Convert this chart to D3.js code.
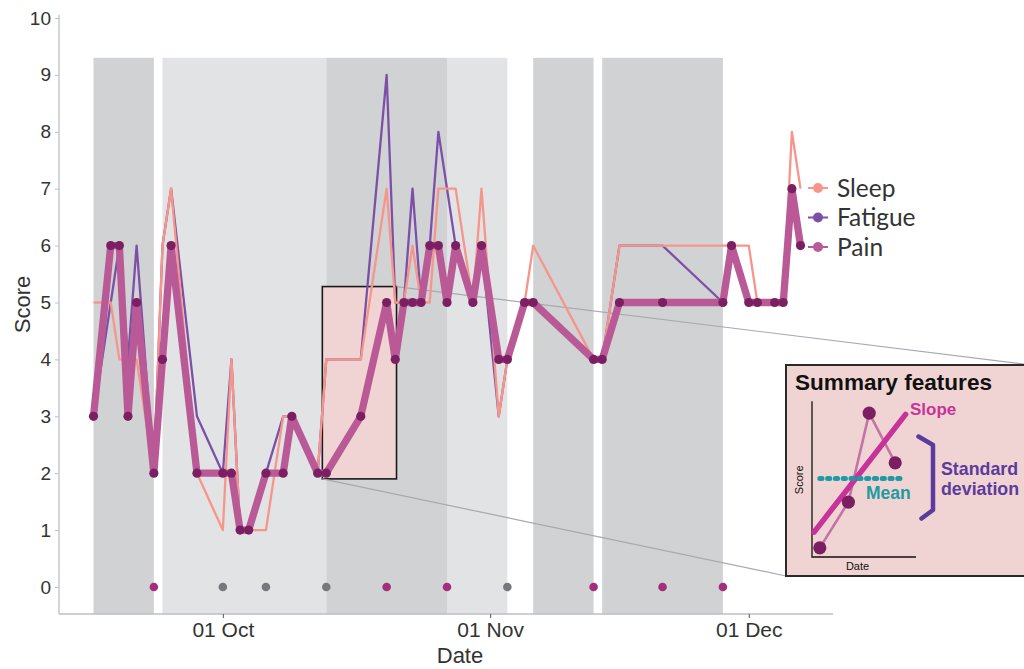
<!DOCTYPE html>
<html><head><meta charset="utf-8">
<script src="https://cdn.jsdelivr.net/npm/d3@7"></script>
<style>body{margin:0;background:#fff}svg{display:block}</style>
</head><body>
<svg id="chart" width="1024" height="669"></svg>
<script>
// ---------------- data ----------------
const dates = ["2023-09-16","2023-09-18","2023-09-19","2023-09-20","2023-09-21","2023-09-23","2023-09-24","2023-09-25","2023-09-28",
  "2023-10-01","2023-10-02","2023-10-03","2023-10-04","2023-10-06","2023-10-08","2023-10-09","2023-10-12","2023-10-13","2023-10-17",
  "2023-10-20","2023-10-21","2023-10-22","2023-10-23","2023-10-24","2023-10-25","2023-10-26","2023-10-27","2023-10-28","2023-10-30","2023-10-31",
  "2023-11-02","2023-11-03","2023-11-05","2023-11-06","2023-11-13","2023-11-14","2023-11-16","2023-11-21","2023-11-28","2023-11-29",
  "2023-12-01","2023-12-02","2023-12-04","2023-12-05","2023-12-06","2023-12-07"];
const sleep   = [5,5,4,4,4,2,6,7,2, 1,4,1,1,1,3,3,2,4,4, 7,5,5,6,5,5,7,7,7,5,7, 3,4,5,6,4,4,6,6,6,6, 6,5,5,5,8,7];
const fatigue = [3,5,6,4,6,2,6,7,3, 2,4,1,1,2,3,3,2,4,4, 9,5,5,7,5,6,8,7,6,5,6, 3,4,5,5,4,4,6,6,5,6, 5,5,5,5,7,6];
const pain    = [3,6,6,3,5,2,4,6,2, 2,2,1,1,2,2,3,2,2,3, 5,4,5,5,5,6,6,5,6,5,6, 4,4,5,5,4,4,5,5,5,6, 5,5,5,5,7,6];

const seriesNames = ["Sleep","Fatigue","Pain"];

const bandStart = ["2023-09-16","2023-09-24","2023-10-13","2023-10-27","2023-11-06","2023-11-14"];
const bandEnd   = ["2023-09-23","2023-10-13","2023-10-27","2023-11-03","2023-11-13","2023-11-28"];
const bandShade = ["dark","light","dark","light","dark","dark"];
const bandTop = 9.3, bandBottom = -0.48;

const eventDates = ["2023-09-23","2023-10-01","2023-10-06","2023-10-13","2023-10-20","2023-10-27","2023-11-03","2023-11-13","2023-11-21","2023-11-28"];
const eventKind  = ["flare","other","other","other","flare","flare","other","flare","flare","flare"];
const eventLevel = 0;

const summaryStart = "2023-10-12T13:00", summaryEnd = "2023-10-21T03:30";
const summaryLow = 1.9, summaryHigh = 5.28;

const yTicks = [0,1,2,3,4,5,6,7,8,9,10];
const xTickDates = ["2023-10-01","2023-11-01","2023-12-01"];

// inset illustration values
const insetX = [0.3,1.4,2.2,3.2];
const insetY = [0.35,2.1,5.5,3.6];
const insetMean = 3.0;
const insetSlopeX = [0.08,3.6], insetSlopeY = [0.95,5.45];

// ---------------- drawing ----------------
const parse = s => new Date(s + (s.length === 10 ? "T00:00:00Z" : ":00Z"));
const svg = d3.select("#chart");
const panel = {left:59, right:833, top:15, bottom:614};

const x = d3.scaleUtc().domain([parse(dates[0]), parse(dates[dates.length-1])]).range([93.5, 800.5]);
const y = d3.scaleLinear().domain([0,10]).range([587, 18]);

const colors = {Sleep:"#F6968B", Fatigue:"#7C50A7", Pain:"#B95A97"};
const painDot = "#7B1F62";

// bands
svg.append("g").selectAll("rect").data(bandStart.map((s,i)=>({s:parse(s),e:parse(bandEnd[i]),k:bandShade[i]})))
  .join("rect")
  .attr("x", d=>x(d.s)).attr("width", d=>x(d.e)-x(d.s))
  .attr("y", y(bandTop)).attr("height", y(bandBottom)-y(bandTop))
  .attr("fill", d=> d.k==="dark" ? "#D1D2D4" : "#E2E3E5");

// summary rectangle
svg.append("rect")
  .attr("x", x(parse(summaryStart))).attr("width", x(parse(summaryEnd))-x(parse(summaryStart)))
  .attr("y", y(summaryHigh)).attr("height", y(summaryLow)-y(summaryHigh))
  .attr("fill","#F0D4D3").attr("stroke","#1a1a1a").attr("stroke-width",1.6);

// inset box geometry
const inset = {left:786, top:365, right:1031, bottom:576};

// connector lines
const conn = svg.append("g").attr("stroke","#A7A9B0").attr("stroke-width",1.2).attr("fill","none");
conn.append("line").attr("x1", x(parse(summaryEnd))).attr("y1", y(summaryHigh)).attr("x2", inset.right).attr("y2", inset.top);
conn.append("line").attr("x1", x(parse(summaryStart))).attr("y1", y(summaryLow)).attr("x2", inset.left).attr("y2", inset.bottom);

// axes
const axisColor = "#BEBFC6";
svg.append("line").attr("x1",panel.left).attr("x2",panel.left).attr("y1",panel.top).attr("y2",panel.bottom).attr("stroke",axisColor).attr("stroke-width",1.3);
svg.append("line").attr("x1",panel.left).attr("x2",panel.right).attr("y1",panel.bottom).attr("y2",panel.bottom).attr("stroke",axisColor).attr("stroke-width",1.3);

const yAxis = svg.append("g").attr("transform",`translate(${panel.left},0)`)
  .call(d3.axisLeft(y).tickValues(yTicks).tickSize(4).tickPadding(4));
yAxis.select(".domain").remove();
yAxis.selectAll("line").attr("stroke",axisColor);
yAxis.selectAll("text").attr("font-family","'Liberation Sans', Arial, sans-serif").attr("font-size",19).attr("fill","#333");

const xAxis = svg.append("g").attr("transform",`translate(0,${panel.bottom})`)
  .call(d3.axisBottom(x).tickValues(xTickDates.map(parse)).tickFormat(d3.utcFormat("%d %b")).tickSize(4).tickPadding(4));
xAxis.select(".domain").remove();
xAxis.selectAll("line").attr("stroke","#555");
xAxis.selectAll("text").attr("font-family","'Liberation Sans', Arial, sans-serif").attr("font-size",21).attr("fill","#333");

svg.append("text").attr("transform",`translate(30,${(panel.top+panel.bottom)/2 - 10}) rotate(-90)`)
  .attr("text-anchor","middle").attr("font-family","'Liberation Sans', Arial, sans-serif").attr("font-size",22).attr("fill","#333").text("Score");
svg.append("text").attr("x",(panel.left+panel.right)/2 + 14).attr("y",663)
  .attr("text-anchor","middle").attr("font-family","'Liberation Sans', Arial, sans-serif").attr("font-size",22).attr("fill","#333").text("Date");

// event dots
svg.append("g").selectAll("circle").data(eventDates.map((d,i)=>({d:parse(d),k:eventKind[i]})))
  .join("circle").attr("cx",d=>x(d.d)).attr("cy",y(eventLevel)).attr("r",4.3)
  .attr("fill",d=>d.k==="flare" ? "#A42E7B" : "#77787D");

// series lines
const rows = dates.map((d,i)=>({date:parse(d), Sleep:sleep[i], Fatigue:fatigue[i], Pain:pain[i]}));
const lineFor = key => d3.line().x(d=>x(d.date)).y(d=>y(d[key]));
svg.append("path").datum(rows).attr("d",lineFor("Fatigue")).attr("fill","none").attr("stroke",colors.Fatigue).attr("stroke-width",2.3).attr("stroke-linejoin","round");
svg.append("path").datum(rows).attr("d",lineFor("Sleep")).attr("fill","none").attr("stroke",colors.Sleep).attr("stroke-width",2.3).attr("stroke-linejoin","round");
svg.append("path").datum(rows).attr("d",lineFor("Pain")).attr("fill","none").attr("stroke",colors.Pain).attr("stroke-width",7.3).attr("stroke-linejoin","round");
svg.append("g").selectAll("circle").data(rows).join("circle")
  .attr("cx",d=>x(d.date)).attr("cy",d=>y(d.Pain)).attr("r",4.6).attr("fill",painDot);

// legend
const legend = svg.append("g").attr("transform","translate(808,188)");
seriesNames.forEach((name,i)=>{
  const g = legend.append("g").attr("transform",`translate(0,${i*29.5})`);
  g.append("line").attr("x1",0).attr("x2",20).attr("stroke",colors[name]).attr("stroke-width",2);
  g.append("circle").attr("cx",10).attr("r",5).attr("fill",colors[name]);
  g.append("text").attr("x",29).attr("y",8.5).attr("font-family","Lato, 'Open Sans', sans-serif").attr("font-size",24.5).attr("fill","#333").text(name);
});

// inset
const ins = svg.append("g");
ins.append("rect").attr("x",inset.left).attr("y",inset.top).attr("width",inset.right-inset.left).attr("height",inset.bottom-inset.top)
  .attr("fill","#F0D4D3").attr("stroke","#2a2a2a").attr("stroke-width",2);
ins.append("text").attr("x",795).attr("y",390).attr("font-family","'Liberation Sans', Arial, sans-serif").attr("font-weight","bold")
  .attr("font-size",21.5).attr("textLength",197).attr("lengthAdjust","spacingAndGlyphs").attr("fill","#111").text("Summary features");

const sx = d3.scaleLinear().domain([0,4]).range([812,916]);
const sy = d3.scaleLinear().domain([0,6]).range([557,400]);
ins.append("path").attr("d",`M${sx(0)},${sy(5.95)}V${sy(0)}H${sx(4)}`).attr("fill","none").attr("stroke","#111").attr("stroke-width",1.3);
ins.append("text").attr("transform",`translate(${sx(0)-9},${sy(2.95)}) rotate(-90)`).attr("text-anchor","middle")
  .attr("font-family","'Liberation Sans', Arial, sans-serif").attr("font-size",11).attr("fill","#111").text("Score");
ins.append("text").attr("x",sx(1.75)).attr("y",sy(0)+13).attr("text-anchor","middle")
  .attr("font-family","'Liberation Sans', Arial, sans-serif").attr("font-size",11).attr("fill","#111").text("Date");

const ipts = insetX.map((v,i)=>[sx(v), sy(insetY[i])]);
ins.append("path").attr("d",d3.line()(ipts)).attr("fill","none").attr("stroke","#C274A6").attr("stroke-width",2.6);
ins.append("path").attr("d",d3.line()(insetSlopeX.map((v,i)=>[sx(v),sy(insetSlopeY[i])])))
  .attr("stroke","#C8339A").attr("stroke-width",5.5).attr("stroke-linecap","round");
ins.append("line").attr("x1",sx(0.3)).attr("x2",sx(3.55)).attr("y1",sy(insetMean)).attr("y2",sy(insetMean))
  .attr("stroke","#1F9AA2").attr("stroke-width",5).attr("stroke-linecap","round").attr("stroke-dasharray","2.2 5.6");
ins.selectAll("circle.ip").data(ipts).join("circle").attr("class","ip").attr("cx",d=>d[0]).attr("cy",d=>d[1]).attr("r",6.6).attr("fill","#7B1F62");

ins.append("text").attr("x",910).attr("y",415).attr("font-family","'Liberation Sans', Arial, sans-serif").attr("font-weight","bold")
  .attr("font-size",17).attr("fill","#C8339A").text("Slope");
ins.append("text").attr("x",866).attr("y",499).attr("font-family","'Liberation Sans', Arial, sans-serif").attr("font-weight","bold")
  .attr("font-size",17.5).attr("fill","#1F9AA2").text("Mean");
ins.append("path").attr("d",`M918.5,436.5 L933,445 V510 L921.5,518.5`).attr("fill","none").attr("stroke","#5C3B9C")
  .attr("stroke-width",4.5).attr("stroke-linecap","round").attr("stroke-linejoin","round");
ins.append("text").attr("x",941).attr("y",475).attr("font-family","'Liberation Sans', Arial, sans-serif").attr("font-weight","bold")
  .attr("font-size",17.8).attr("fill","#5C3B9C").text("Standard");
ins.append("text").attr("x",941).attr("y",494.5).attr("font-family","'Liberation Sans', Arial, sans-serif").attr("font-weight","bold")
  .attr("font-size",17.8).attr("fill","#5C3B9C").text("deviation");
</script>
</body></html>
